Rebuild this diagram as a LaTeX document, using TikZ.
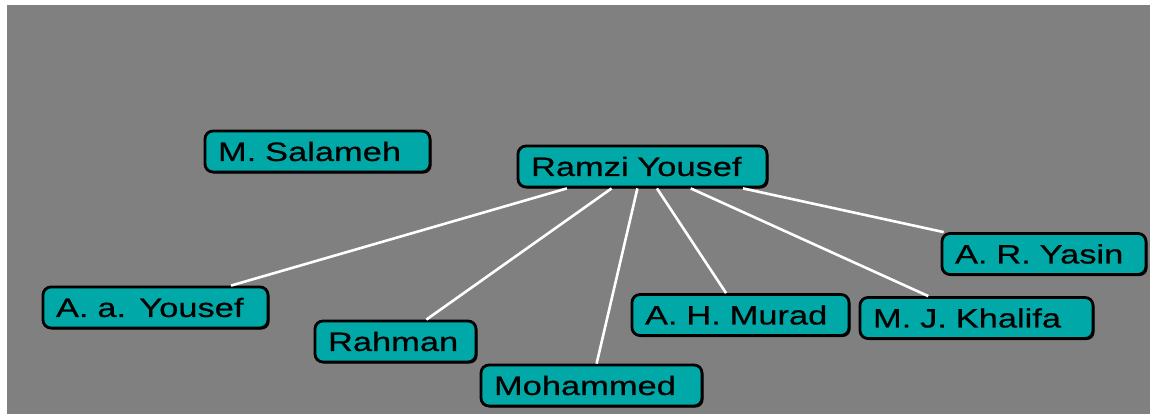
\documentclass[tikz,border=0pt]{standalone}
\usepackage{fontspec}
\usepackage{tikz}
\usetikzlibrary{shadows}
\newfontfamily\namefont[FakeStretch=1.3,FakeBold=0.6]{Liberation Sans}
\definecolor{sgray}{HTML}{808080}
\definecolor{scyan}{HTML}{00A8A8}
\tikzset{
  person/.style={
    draw=black, fill=scyan, line width=2.8pt, rounded corners=8pt,
    text width=#1, align=left, inner xsep=13pt, inner ysep=0pt,
    minimum height=41pt, font=\namefont\fontsize{26.5}{30}\selectfont,
    drop shadow={shadow xshift=1.6pt, shadow yshift=-1.6pt, fill=black, opacity=0.85}
  },
  tie/.style={draw=white, line width=2.6pt}
}
\begin{document}
\begin{tikzpicture}[x=1pt, y=-1pt]
  \useasboundingbox (0,0) rectangle (1150,414);
  \fill[white] (0,0) rectangle (1150,414);
  \fill[sgray] (7,5) rectangle (1150,414);
  % people
  \node[person=199pt] (salameh)  at (317.5,151.5) {M. Salameh};
  \node[person=223pt] (ramzi)    at (642.5,166.5) {Ramzi Yousef};
  \node[person=199pt] (ayousef)  at (155.5,307.5) {A. a. Yousef};
  \node[person=135pt] (rahman)   at (395.5,341.5) {Rahman};
  \node[person=195pt] (mohammed) at (591.5,385.5) {Mohammed};
  \node[person=191pt] (murad)    at (740.5,315)   {A. H. Murad};
  \node[person=207pt] (khalifa)  at (976.5,318)   {M. J. Khalifa};
  \node[person=178pt] (yasin)    at (1044,254)    {A. R. Yasin};
  % links out of the centre
  \foreach \who in {ayousef, rahman, mohammed, murad, khalifa, yasin}
    \draw[tie] (ramzi) -- (\who);
\end{tikzpicture}
\end{document}
